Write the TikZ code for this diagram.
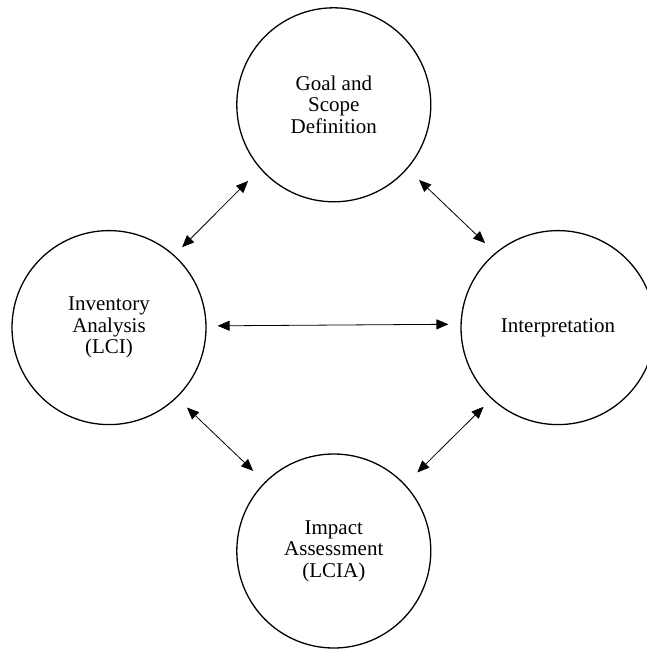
\documentclass[tikz,border=0pt]{standalone}
\usepackage{fontspec}
\setmainfont{Liberation Serif}
\usetikzlibrary{arrows.meta}
\begin{document}
\begin{tikzpicture}[x=1pt,y=-1pt,
  phase/.style={circle, draw, line width=1.3pt, minimum size=194pt, inner sep=0pt,
    align=center, font=\fontsize{21}{21.6}\selectfont},
  link/.style 2 args={line width=0.8pt,
    {Triangle[length=12pt,width=10pt]}-{Triangle[length=12pt,width=10pt]},
    shorten <=#1, shorten >=#2}]
  \useasboundingbox (0,0) rectangle (647,651);
  % the four phases
  \node[phase] (goal) at (333.8,104.8) {Goal and\\Scope\\Definition};
  \node[phase] (inv)  at (109,327.6) {Inventory\\Analysis\\(LCI)};
  \node[phase] (interp) at (558,327.6) {Interpretation};
  \node[phase] (impact) at (333.8,551) {Impact\\Assessment\\(LCIA)};
  % two-way links between the phases
  \draw[link={11pt}{17pt}] (inv.48.3) -- (goal.221.3);
  \draw[link={16pt}{14pt}] (goal.319.8) -- (interp.130.4);
  \draw[link={11pt}{12pt}] (inv.1.7) -- (interp.178.3);
  \draw[link={14pt}{16pt}] (inv.314.5) -- (impact.135.6);
  \draw[link={11pt}{17pt}] (interp.227) -- (impact.43.5);
\end{tikzpicture}
\end{document}
